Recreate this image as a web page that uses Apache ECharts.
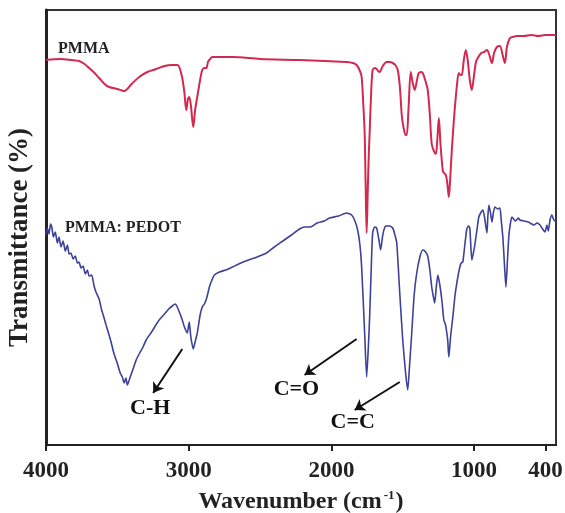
<!DOCTYPE html>
<html>
<head>
<meta charset="utf-8">
<script src="https://cdn.jsdelivr.net/npm/echarts@6/dist/echarts.min.js"></script>
<style>
  html, body { margin: 0; padding: 0; background: #fff; }
  #chart { width: 565px; height: 513px; }
</style>
</head>
<body>
<div id="chart"></div>
<script>
// FTIR spectra, transmittance in arbitrary units (no scale on the y axis)
var pmmaWave = [4000, 3900, 3820, 3768, 3730, 3698, 3660, 3628, 3590, 3558, 3500, 3452, 3400, 3347, 3290, 3228, 3170, 3115, 3080, 3066,
  3045, 3030, 3017, 3005, 2996, 2985, 2968, 2955, 2940, 2920, 2905, 2890, 2876, 2865, 2855, 2834, 2760, 2694, 2500, 2223,
  2050, 1893, 1850, 1823, 1800, 1788, 1778, 1767, 1760, 1753, 1745, 1738, 1732, 1722, 1711, 1695, 1683, 1672, 1662, 1640,
  1613, 1590, 1570, 1552, 1535, 1520, 1507, 1495, 1480, 1472, 1460, 1444, 1430, 1416, 1400, 1388, 1370, 1360, 1345, 1325,
  1310, 1297, 1282, 1268, 1258, 1247, 1235, 1219, 1210, 1198, 1188, 1177, 1166, 1156, 1145, 1135, 1120, 1107, 1095, 1086,
  1072, 1058, 1045, 1030, 1016, 1000, 987, 974, 950, 930, 910, 893, 875, 860, 840, 819, 800, 784, 770, 749,
  730, 700, 650, 600, 550, 500, 447, 426];
var pmmaT = [385, 386, 385, 384, 381, 377, 372, 367, 361, 358, 356, 354, 361, 368, 373, 376, 379, 380, 380, 378,
  367, 352, 335, 346, 348, 340, 318, 335, 348, 365, 375, 377, 377, 383, 385, 388, 388, 388, 386, 385,
  384, 383, 382, 380, 374, 368, 345, 312, 260, 212, 255, 290, 312, 350, 375, 377, 376, 374, 373, 379,
  383, 383, 382, 380, 375, 358, 330, 318, 310, 310, 335, 373, 362, 355, 365, 372, 373, 372, 366, 355,
  330, 301, 294, 291, 305, 327, 300, 274, 272, 270, 262, 248, 270, 295, 318, 337, 360, 372, 370, 370,
  385, 395, 385, 365, 355, 370, 383, 387, 392, 393, 395, 390, 382, 392, 398, 399, 390, 382, 398, 407,
  408, 409, 409, 410, 409, 410, 410, 410];

var pedotWave = [4000, 3990, 3979, 3968, 3958, 3948, 3935, 3920, 3909, 3895, 3880, 3865, 3850, 3838, 3825, 3810, 3795, 3780, 3768, 3755,
  3740, 3725, 3710, 3698, 3680, 3663, 3650, 3628, 3610, 3595, 3579, 3560, 3544, 3525, 3501, 3480, 3465, 3452, 3440, 3430,
  3417, 3400, 3385, 3368, 3340, 3320, 3298, 3260, 3230, 3207, 3170, 3140, 3115, 3095, 3080, 3060, 3045, 3030, 3010, 3000,
  2996, 2985, 2968, 2955, 2940, 2920, 2905, 2890, 2876, 2865, 2855, 2840, 2820, 2785, 2740, 2694, 2650, 2600, 2540, 2455,
  2400, 2340, 2280, 2223, 2188, 2150, 2100, 2050, 2013, 1950, 1893, 1858, 1835, 1816, 1800, 1788, 1767, 1753, 1742, 1732,
  1720, 1711, 1697, 1683, 1668, 1655, 1640, 1625, 1613, 1590, 1570, 1555, 1542, 1521, 1500, 1480, 1465, 1452, 1437, 1420,
  1402, 1380, 1360, 1345, 1325, 1310, 1297, 1285, 1276, 1265, 1254, 1240, 1226, 1212, 1200, 1191, 1185, 1177, 1165, 1149,
  1135, 1121, 1100, 1090, 1079, 1065, 1051, 1040, 1030, 1016, 1005, 995, 980, 967, 950, 938, 925, 910, 903, 896,
  885, 875, 865, 854, 835, 819, 810, 798, 787, 777, 766, 756, 745, 735, 710, 690, 679, 650, 620, 608,
  580, 560, 538, 520, 503, 490, 480, 468, 455, 447, 435, 426];
var pedotT = [210, 217, 211, 221, 217, 208, 213, 202, 208, 198, 204, 194, 200, 191, 192, 186, 189, 182, 183, 177,
  179, 171, 175, 169, 170, 159, 153, 146, 135, 128, 120, 111, 103, 92, 82, 72, 68, 62, 67, 60,
  65, 72, 78, 85, 93, 98, 105, 113, 120, 125, 131, 136, 139, 141, 138, 131, 125, 118, 112, 120,
  123, 108, 96, 103, 112, 130, 138, 141, 146, 152, 158, 164, 170, 173, 175, 178, 181, 184, 187, 192,
  198, 204, 210, 216, 218, 218, 222, 224, 227, 229, 232, 230, 224, 215, 200, 178, 112, 68, 95, 128,
  180, 212, 218, 217, 206, 195, 210, 218, 219, 219, 217, 210, 202, 152, 105, 72, 55, 80, 112, 150,
  172, 188, 195, 194, 189, 175, 158, 148, 142, 158, 170, 160, 145, 125, 120, 112, 105, 88, 108, 128,
  148, 162, 178, 182, 183, 200, 216, 219, 217, 185, 192, 200, 215, 228, 233, 235, 226, 212, 230, 240,
  232, 223, 232, 238, 236, 237, 225, 207, 180, 158, 185, 210, 222, 228, 224, 227, 225, 224, 223, 222,
  220, 222, 220, 216, 213, 220, 214, 225, 230, 227, 224, 225];

// tick marks on the wavenumber axis and the labels printed under them
var tickValues = [4000, 3000, 2000, 1000, 500];
var tickLabels = ["4000", "3000", "2000", "1000", "400"];

// band assignments: label spot, arrow tail, arrow head (wavenumber, T)
var bandNames = ["C-H", "C=O", "C=C"];
var bandLabelAt = [[3270, 37], [2245, 56], [1851, 23]];
var bandArrowFrom = [[3045, 96], [1823, 106], [1521, 63]];
var bandArrowTo = [[3249, 52], [2188, 70], [1837, 35]];

function pairs(xs, ys) {
  var out = [];
  for (var i = 0; i < xs.length; i++) {
    out.push([xs[i], ys[i]]);
  }
  return out;
}

var serif = "Liberation Serif, Times New Roman, serif";

var arrowLines = [];
var bandPoints = [];
for (var i = 0; i < bandNames.length; i++) {
  arrowLines.push([{ coord: bandArrowFrom[i] }, { coord: bandArrowTo[i] }]);
  bandPoints.push({ name: bandNames[i], coord: bandLabelAt[i] });
}

var chart = echarts.init(document.getElementById("chart"));
chart.setOption({
  animation: false,
  backgroundColor: "#fff",
  grid: {
    left: 46,
    right: 9,
    top: 10,
    bottom: 68,
    outerBoundsMode: "none",
    containLabel: false,
    show: true,
    borderColor: "#333",
    borderWidth: 2
  },
  xAxis: {
    type: "value",
    inverse: true,
    min: 426,
    max: 4000,
    name: "Wavenumber (cm{sup|-1})",
    nameLocation: "middle",
    nameGap: 44,
    nameTextStyle: {
      fontFamily: serif,
      fontWeight: "bold",
      fontSize: 24,
      color: "#222",
      rich: {
        sup: {
          fontFamily: serif,
          fontWeight: "bold",
          fontSize: 13,
          color: "#222",
          padding: [0, 1, 13, 2]
        }
      }
    },
    axisLine: { show: true, lineStyle: { color: "#222", width: 2 } },
    axisTick: {
      show: true,
      inside: false,
      length: 6,
      customValues: tickValues,
      lineStyle: { color: "#222", width: 2 }
    },
    axisLabel: {
      customValues: tickValues,
      margin: 15,
      fontFamily: serif,
      fontWeight: "bold",
      fontSize: 23,
      color: "#222",
      formatter: function(v) {
        var idx = tickValues.indexOf(v);
        return idx >= 0 ? tickLabels[idx] : "";
      }
    },
    splitLine: { show: false }
  },
  yAxis: {
    type: "value",
    min: 0,
    max: 435,
    name: "Transmittance (%)",
    nameLocation: "middle",
    nameRotate: 90,
    nameGap: 12,
    nameTextStyle: {
      fontFamily: serif,
      fontWeight: "bold",
      fontSize: 27,
      color: "#222",
      padding: [0, 20, 0, 0]
    },
    axisLine: { show: true, lineStyle: { color: "#222", width: 3 } },
    axisTick: { show: false },
    axisLabel: { show: false },
    splitLine: { show: false }
  },
  graphic: [
    {
      type: "text",
      left: 58,
      top: 41,
      style: { text: "PMMA", font: "bold 16px " + serif, fill: "#222" }
    },
    {
      type: "text",
      left: 65,
      top: 220,
      style: { text: "PMMA: PEDOT", font: "bold 16px " + serif, fill: "#222" }
    }
  ],
  series: [
    {
      name: "PMMA",
      type: "line",
      data: pairs(pmmaWave, pmmaT),
      showSymbol: false,
      smooth: 0.3,
      lineStyle: { color: "#d3284f", width: 2 },
      z: 2
    },
    {
      name: "PMMA: PEDOT",
      type: "line",
      data: pairs(pedotWave, pedotT),
      showSymbol: false,
      smooth: 0.2,
      lineStyle: { color: "#3c4199", width: 1.6 },
      z: 3,
      markLine: {
        silent: true,
        symbol: ["none", "arrow"],
        symbolSize: 10,
        label: { show: false },
        lineStyle: { color: "#111", width: 2, type: "solid" },
        data: arrowLines
      },
      markPoint: {
        silent: true,
        symbolSize: 0,
        label: {
          show: true,
          position: "inside",
          formatter: "{b}",
          fontFamily: serif,
          fontWeight: "bold",
          fontSize: 22,
          color: "#111"
        },
        data: bandPoints
      }
    }
  ]
});
</script>
</body>
</html>
